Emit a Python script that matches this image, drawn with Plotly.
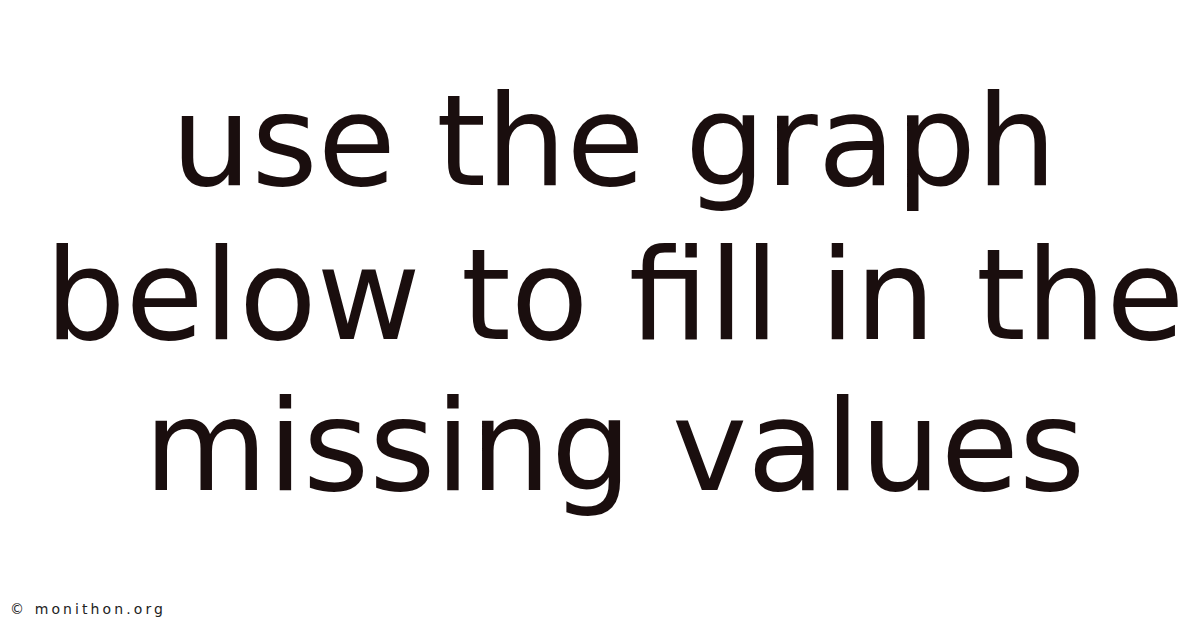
import plotly.graph_objects as go

# title lines as shown in the picture
lines = ["use the graph", "below to fill in the", "missing values"]
line_y = [0.788, 0.543, 0.302]   # paper positions of each line
watermark = "© monithon.org"

fig = go.Figure()

for txt, yy in zip(lines, line_y):
	fig.add_annotation(text=txt, x=0.505, y=yy, xref="paper", yref="paper",
			xanchor="center", yanchor="middle", showarrow=False,
			font=dict(family="DejaVu Sans", size=127, color="#1a0e0e"))

fig.add_annotation(text='<span style="letter-spacing:3.1px">' + watermark + '</span>',
		x=0.0, y=0.043, xref="paper", yref="paper",
		xanchor="left", yanchor="middle", showarrow=False,
		font=dict(family="DejaVu Sans", size=14, color="#222222"))

fig.update_layout(width=1200, height=628, margin=dict(l=0, r=0, t=0, b=0),
		paper_bgcolor="white", plot_bgcolor="white",
		xaxis=dict(visible=False), yaxis=dict(visible=False))

fig.write_html("out.html")
